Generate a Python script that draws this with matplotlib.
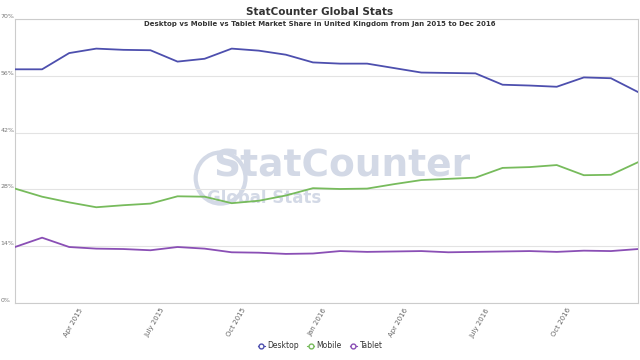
import matplotlib
matplotlib.use("Agg")
import matplotlib.pyplot as plt
import matplotlib.transforms as mtransforms
from matplotlib.lines import Line2D
from matplotlib.patches import Ellipse

"""data read off the chart, monthly Jan 2015 .. Dec 2016"""
months = ['Jan 2015', 'Feb 2015', 'Mar 2015', 'Apr 2015', 'May 2015', 'June 2015',
          'July 2015', 'Aug 2015', 'Sept 2015', 'Oct 2015', 'Nov 2015', 'Dec 2015',
          'Jan 2016', 'Feb 2016', 'Mar 2016', 'Apr 2016', 'May 2016', 'June 2016',
          'July 2016', 'Aug 2016', 'Sept 2016', 'Oct 2016', 'Nov 2016', 'Dec 2016']
desktop = [57.6, 57.6, 61.6, 62.7, 62.4, 62.3, 59.5, 60.2, 62.7, 62.2, 61.2, 59.3,
           59.0, 59.0, 57.9, 56.8, 56.7, 56.6, 53.8, 53.6, 53.3, 55.6, 55.4, 52.0]
mobile = [28.2, 26.2, 24.8, 23.6, 24.1, 24.5, 26.3, 26.2, 24.6, 25.2, 26.5, 28.3,
          28.1, 28.2, 29.3, 30.3, 30.6, 30.9, 33.3, 33.5, 34.0, 31.5, 31.6, 34.7]
tablet = [13.8, 16.1, 13.8, 13.4, 13.3, 13.0, 13.8, 13.4, 12.5, 12.4, 12.1, 12.2,
          12.8, 12.6, 12.7, 12.8, 12.5, 12.6, 12.7, 12.8, 12.6, 12.9, 12.8, 13.3]
yticks = [0, 14, 28, 42, 56, 70]
xtick_idx = [3, 6, 9, 12, 15, 18, 21]
xtick_labels = ['Apr 2015', 'July 2015', 'Oct 2015', 'Jan 2016', 'Apr 2016', 'July 2016', 'Oct 2016']

c_desktop = '#4d4fae'
c_mobile = '#77bb5c'
c_tablet = '#8a4fb5'

fig = plt.figure(figsize=(6.4, 3.6), dpi=100)
ax = fig.add_axes([15/640, 57/360, 623/640, 284/360])

x = list(range(len(months)))

# watermark
wm = '#d3d9e6'
ax.text(0.525, 0.48, 'StatCounter', transform=ax.transAxes, fontsize=27, fontweight='bold',
        color=wm, ha='center', va='center', zorder=0)
ax.text(0.4, 0.37, 'Global Stats', transform=ax.transAxes, fontsize=12, fontweight='bold',
        color=wm, ha='center', va='center', zorder=0)
ax.add_patch(Ellipse((0.33, 0.44), 0.08, 0.18, transform=ax.transAxes, fill=False,
                     ec=wm, lw=3, zorder=0))

ax.plot(x, desktop, color=c_desktop, lw=1.3, zorder=3)
ax.plot(x, mobile, color=c_mobile, lw=1.3, zorder=3)
ax.plot(x, tablet, color=c_tablet, lw=1.3, zorder=3)

ax.set_xlim(0, len(months) - 1)
ax.set_ylim(0, 70)
ax.set_yticks(yticks)
ax.set_yticklabels([str(v) + '%' for v in yticks])
ax.grid(axis='y', color='#e3e3e3', lw=0.8)
ax.set_axisbelow(True)
for s in ax.spines.values():
    s.set_color('#cccccc')
    s.set_linewidth(0.8)
ax.tick_params(axis='y', length=0, labelsize=4.5, labelcolor='#777777', pad=2)
for lbl in ax.get_yticklabels():
    lbl.set_horizontalalignment('left')
    lbl.set_transform(lbl.get_transform() + mtransforms.ScaledTranslation(-12/100, 3/100, fig.dpi_scale_trans))

ax.set_xticks(xtick_idx)
ax.set_xticklabels(xtick_labels, rotation=60, ha='right', fontsize=5, color='#666666')
ax.tick_params(axis='x', length=0, pad=3)
off = mtransforms.ScaledTranslation(-12/100, 0, fig.dpi_scale_trans)
for lbl in ax.get_xticklabels():
    lbl.set_transform(lbl.get_transform() + off)

fig.text(0.5, 1 - 12/360, 'StatCounter Global Stats', ha='center', va='center',
         fontsize=7.5, fontweight='bold', color='#333333')
fig.text(0.5, 1 - 24/360, 'Desktop vs Mobile vs Tablet Market Share in United Kingdom from Jan 2015 to Dec 2016',
         ha='center', va='center', fontsize=5, fontweight='bold', color='#333333')

handles = [Line2D([], [], color=c, marker='o', markersize=3.5, markerfacecolor='white',
                  lw=0.8) for c in (c_desktop, c_mobile, c_tablet)]
fig.legend(handles, ['Desktop', 'Mobile', 'Tablet'], loc='center', bbox_to_anchor=(0.5, 1 - 346/360),
           ncol=3, frameon=False, fontsize=5.5, handlelength=1.0, handletextpad=0.3,
           columnspacing=1.0, labelcolor='#333333')

fig.savefig('out.png', dpi=100)
